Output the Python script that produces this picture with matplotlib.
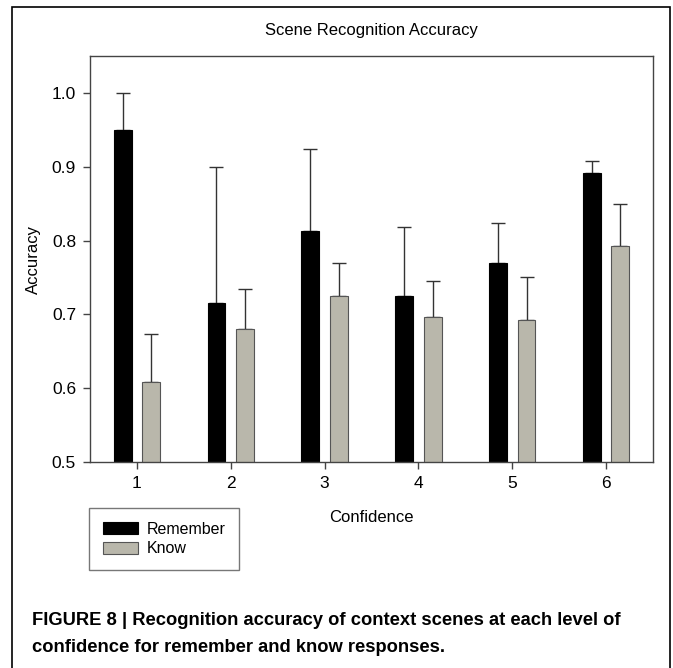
import matplotlib
matplotlib.use("Agg")
import matplotlib.pyplot as plt
from matplotlib.patches import Rectangle
import numpy as np

plt.rcParams['font.family'] = ['Liberation Sans', 'DejaVu Sans']

# data
confidence = [1, 2, 3, 4, 5, 6]
remember_mean = [0.950, 0.715, 0.813, 0.725, 0.770, 0.892]
remember_err = [0.050, 0.184, 0.111, 0.093, 0.054, 0.016]
know_mean = [0.609, 0.680, 0.725, 0.697, 0.693, 0.793]
know_err = [0.064, 0.054, 0.044, 0.048, 0.058, 0.057]
yticks = [0.5, 0.6, 0.7, 0.8, 0.9, 1.0]
caption = ['FIGURE 8 | Recognition accuracy of context scenes at each level of',
           'confidence for remember and know responses.']

W, H = 673, 668
fig = plt.figure(figsize=(W / 100, H / 100), dpi=100)
ax = fig.add_axes([90 / W, 1 - 462 / H, (653 - 90) / W, (462 - 56) / H])

x = np.array(confidence)
width = 0.19
off = 0.152

ax.bar(x - off, remember_mean, width, color='black', edgecolor='black',
       linewidth=0.8, label='Remember', zorder=2)
ax.bar(x + off, know_mean, width, color='#b9b7ab', edgecolor='#555555',
       linewidth=0.8, label='Know', zorder=2)

# upper error bars only
ax.errorbar(x - off, remember_mean, yerr=[np.zeros(6), remember_err],
            fmt='none', ecolor='#333333', elinewidth=1, capsize=4.7,
            capthick=1, zorder=1)
ax.errorbar(x + off, know_mean, yerr=[np.zeros(6), know_err],
            fmt='none', ecolor='#333333', elinewidth=1, capsize=4.7,
            capthick=1, zorder=1)

ax.set_xlim(0.5, 6.5)
ax.set_ylim(0.5, 1.05)
ax.set_xticks(x)
ax.set_xticklabels([str(c) for c in confidence])
ax.set_yticks(yticks)
ax.set_yticklabels([f"{t:.1f}" for t in yticks])
for sp in ax.spines.values():
    sp.set_color('#444444')
    sp.set_linewidth(1)
ax.tick_params(direction='out', length=5, width=1, color='#444444',
               labelsize=12.5, pad=5)

fig.text((90 + 653) / 2 / W, 1 - 30 / H, 'Scene Recognition Accuracy',
         fontsize=12, ha='center', va='center')
ax.set_ylabel('Accuracy', fontsize=12, labelpad=8)
ax.set_xlabel('Confidence', fontsize=12, labelpad=14)

leg = fig.legend(loc='upper left', bbox_to_anchor=(89 / W, 1 - 508 / H),
                 fontsize=11.5, frameon=True, fancybox=False,
                 handlelength=2.2, handleheight=0.8, borderpad=0.85,
                 labelspacing=0.3, handletextpad=0.55, borderaxespad=0)
leg.get_frame().set_edgecolor('#555555')
leg.get_frame().set_linewidth(1)

# outer border
fig.patches.append(Rectangle((12 / W, -0.05), (670 - 12) / W, 1.05 - 7 / H,
                             transform=fig.transFigure, fill=False,
                             edgecolor='black', linewidth=1.2))

for i, line in enumerate(caption):
    fig.text(32 / W, 1 - (625 + 27 * i) / H, line,
             family=['Liberation Sans Narrow', 'Liberation Sans', 'DejaVu Sans'],
             fontweight='bold', fontsize=13.2, va='baseline', ha='left')

fig.savefig('out.png', dpi=100)
